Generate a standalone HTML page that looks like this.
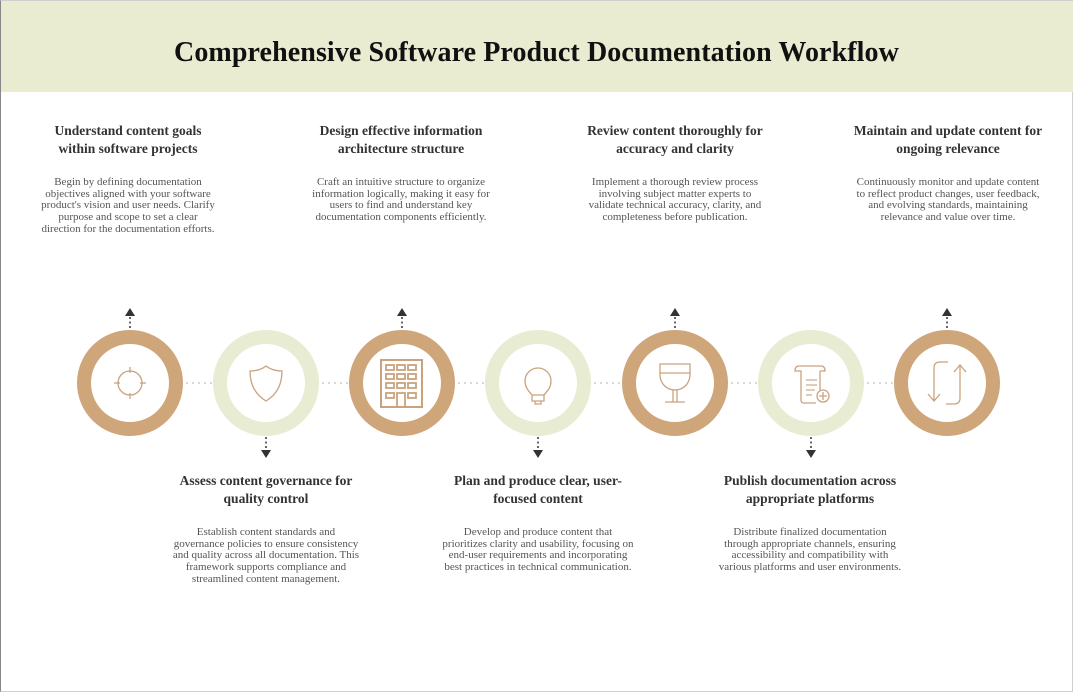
<!DOCTYPE html>
<html><head><meta charset="utf-8"><style>
html,body{margin:0;padding:0;}
body{width:1073px;height:692px;position:relative;background:#fff;font-family:"Liberation Serif",serif;overflow:hidden;}
.frame{position:absolute;left:0;top:0;width:1071px;height:690px;border:1px solid #cfcfcf;border-left:1px solid #888;}
.hdr{position:absolute;left:1px;top:1px;width:1072px;height:91px;background:#e9ecd0;}
.title{position:absolute;left:0;top:37px;width:1073px;text-align:center;font-size:28px;font-weight:bold;color:#111;letter-spacing:0.1px;}
.blk{position:absolute;width:260px;text-align:center;}
.t{font-weight:bold;font-size:13.5px;line-height:18px;color:#333;}
.d{font-size:11px;line-height:11.7px;color:#555;margin-top:19px;}
</style></head><body>
<div class="frame"></div>
<div class="hdr"></div>
<div class="title">Comprehensive Software Product Documentation Workflow</div>

<div class="blk" style="left:-2px;top:122px"><div class="t">Understand content goals<br>within software projects</div><div class="d">Begin by defining documentation<br>objectives aligned with your software<br>product's vision and user needs. Clarify<br>purpose and scope to set a clear<br>direction for the documentation efforts.</div></div>
<div class="blk" style="left:271px;top:122px"><div class="t">Design effective information<br>architecture structure</div><div class="d">Craft an intuitive structure to organize<br>information logically, making it easy for<br>users to find and understand key<br>documentation components efficiently.</div></div>
<div class="blk" style="left:545px;top:122px"><div class="t">Review content thoroughly for<br>accuracy and clarity</div><div class="d">Implement a thorough review process<br>involving subject matter experts to<br>validate technical accuracy, clarity, and<br>completeness before publication.</div></div>
<div class="blk" style="left:818px;top:122px"><div class="t">Maintain and update content for<br>ongoing relevance</div><div class="d">Continuously monitor and update content<br>to reflect product changes, user feedback,<br>and evolving standards, maintaining<br>relevance and value over time.</div></div>

<div class="blk" style="left:136px;top:472px"><div class="t">Assess content governance for<br>quality control</div><div class="d">Establish content standards and<br>governance policies to ensure consistency<br>and quality across all documentation. This<br>framework supports compliance and<br>streamlined content management.</div></div>
<div class="blk" style="left:408px;top:472px"><div class="t">Plan and produce clear, user-<br>focused content</div><div class="d">Develop and produce content that<br>prioritizes clarity and usability, focusing on<br>end-user requirements and incorporating<br>best practices in technical communication.</div></div>
<div class="blk" style="left:680px;top:472px"><div class="t">Publish documentation across<br>appropriate platforms</div><div class="d">Distribute finalized documentation<br>through appropriate channels, ensuring<br>accessibility and compatibility with<br>various platforms and user environments.</div></div>

<svg width="1073" height="692" style="position:absolute;left:0;top:0" xmlns="http://www.w3.org/2000/svg">
<g stroke="#ccc" stroke-width="1.5" stroke-dasharray="2 4">
<line x1="186" y1="383" x2="212" y2="383"/><line x1="322" y1="383" x2="348" y2="383"/>
<line x1="458" y1="383" x2="484" y2="383"/><line x1="594" y1="383" x2="620" y2="383"/>
<line x1="731" y1="383" x2="757" y2="383"/><line x1="867" y1="383" x2="893" y2="383"/>
</g>
<g fill="#fff" stroke-width="14">
<circle cx="130" cy="383" r="46" stroke="#cfa57a"/>
<circle cx="266" cy="383" r="46" stroke="#e8ecd2"/>
<circle cx="402" cy="383" r="46" stroke="#cfa57a"/>
<circle cx="538" cy="383" r="46" stroke="#e8ecd2"/>
<circle cx="675" cy="383" r="46" stroke="#cfa57a"/>
<circle cx="811" cy="383" r="46" stroke="#e8ecd2"/>
<circle cx="947" cy="383" r="46" stroke="#cfa57a"/>
</g>
<g fill="#333" stroke="#333">
<g stroke-width="1.5" stroke-dasharray="2 2.5">
<line x1="130" y1="317" x2="130" y2="329"/><line x1="402" y1="317" x2="402" y2="329"/>
<line x1="675" y1="317" x2="675" y2="329"/><line x1="947" y1="317" x2="947" y2="329"/>
<line x1="266" y1="437" x2="266" y2="450"/><line x1="538" y1="437" x2="538" y2="450"/><line x1="811" y1="437" x2="811" y2="450"/>
</g>
<g stroke="none">
<path d="M130 308l5 8h-10z"/><path d="M402 308l5 8h-10z"/><path d="M675 308l5 8h-10z"/><path d="M947 308l5 8h-10z"/>
<path d="M266 458l5-8h-10z"/><path d="M538 458l5-8h-10z"/><path d="M811 458l5-8h-10z"/>
</g>
</g>
<g fill="none" stroke="#c9a37e" stroke-width="1.3">
<circle cx="130" cy="383" r="12"/>
<line x1="130" y1="367" x2="130" y2="373"/><line x1="130" y1="393" x2="130" y2="399"/>
<line x1="114" y1="383" x2="120" y2="383"/><line x1="140" y1="383" x2="146" y2="383"/>
<path d="M266 366c5 4 10 5 16 5c0 15-6 24-16 30c-10-6-16-15-16-30c6 0 11-1 16-5z"/>
<rect x="381" y="360" width="41" height="47" stroke-width="2"/>
<g stroke-width="1.8">
<rect x="386" y="365" width="8" height="5"/><rect x="397" y="365" width="8" height="5"/><rect x="408" y="365" width="8" height="5"/>
<rect x="386" y="374" width="8" height="5"/><rect x="397" y="374" width="8" height="5"/><rect x="408" y="374" width="8" height="5"/>
<rect x="386" y="383" width="8" height="5"/><rect x="397" y="383" width="8" height="5"/><rect x="408" y="383" width="8" height="5"/>
<rect x="386" y="393" width="8" height="5"/><path d="M397 407v-14h8v14"/><rect x="408" y="393" width="8" height="5"/>
</g>
<path d="M532 395c-3-4-7-7-7-14a13 13 0 0 1 26 0c0 7-4 10-7 14z"/>
<path d="M532 395v6h12v-6M535 401v3h6v-3"/>
<path d="M660 364h30v10c0 10-7 16-15 16c-8 0-15-6-15-16z"/>
<line x1="660" y1="373" x2="690" y2="373"/>
<path d="M673 390v12h-8h20h-8v-12"/>
<path d="M799 366h22c3 0 4 2 4 5h-5"/>
<path d="M799 366c-3 0-4 2-4 5h6v29c0 2 1 3 3 3h12"/>
<path d="M820 371v20"/>
<g stroke-width="1.1"><line x1="806" y1="380" x2="817" y2="380"/><line x1="806" y1="385" x2="817" y2="385"/><line x1="806" y1="390" x2="815" y2="390"/><line x1="806" y1="395" x2="812" y2="395"/></g>
<circle cx="823" cy="396" r="6"/><path d="M823 392v8M819 396h8"/>
<path d="M948 362h-8c-4 0-6 2-6 6v32M928 394l6 7l6-7"/>
<path d="M946 404h8c4 0 6-2 6-6v-32M954 372l6-7l6 7"/>
</g>
</svg>
</body></html>
